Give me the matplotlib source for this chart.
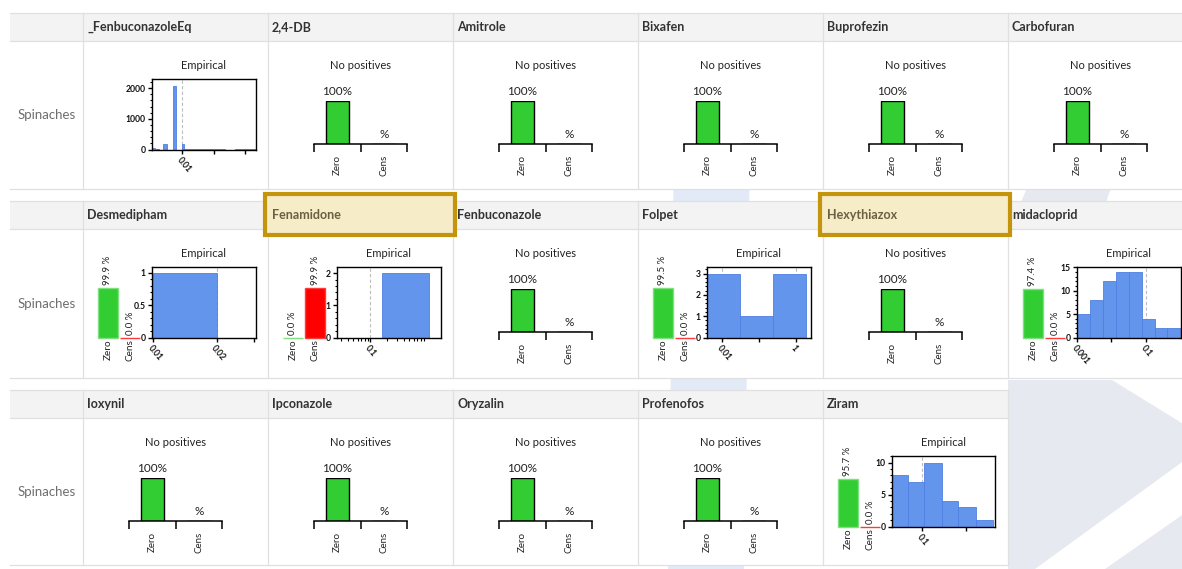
import numpy as np
import matplotlib
matplotlib.use("Agg")
import matplotlib.pyplot as plt
from matplotlib.patches import Rectangle, Polygon
from matplotlib.ticker import NullLocator, NullFormatter, AutoMinorLocator, LogLocator

plt.rcParams['font.family'] = ['Lato', 'DejaVu Sans']

# ---------------- data ----------------
row_label = "Spinaches"
row1_substances = ["_FenbuconazoleEq", "2,4-DB", "Amitrole", "Bixafen", "Buprofezin", "Carbofuran"]
row2_substances = ["Desmedipham", "Fenamidone", "Fenbuconazole", "Folpet", "Hexythiazox", "midacloprid"]
row3_substances = ["Ioxynil", "Ipconazole", "Oryzalin", "Profenofos", "Ziram"]
highlighted = ["Fenamidone", "Hexythiazox"]
zc_categories = ["Zero", "Cens"]

no_positive_pct = [100, 0]
no_positive_labels = ["100%", "%"]

fenbeq_edges = [0.00108, 0.0014, 0.0019, 0.00244, 0.0032, 0.0052, 0.0065, 0.0100, 0.0118, 0.03, 0.08, 0.24, 0.48, 2.17]
fenbeq_counts = [50, 12, 0, 185, 0, 2080, 0, 180, 25, 20, 18, 0, 22]
fenbeq_dashed = [0.01]
fenbeq_xticks = [0.01, 0.1, 1]
fenbeq_xticklabels = ["0.01", "", ""]
fenbeq_yticks = [0, 1000, 2000]
fenbeq_yticklabels = ["0", "1000", "2000"]

desmedipham_zero_cens = [99.9, 0.0]
desmedipham_edges = [0.01, 0.02]
desmedipham_counts = [1]
desmedipham_dashed = [0.02]
desmedipham_xticks = [0.01, 0.02, 0.03]
desmedipham_xticklabels = ["0.01", "0.02", ""]
desmedipham_yticks = [0, 0.5, 1]
desmedipham_yticklabels = ["0", "0.5", "1"]

fenamidone_zero_cens = [0.0, 99.9]
fenamidone_edges = [0.16, 1.1]
fenamidone_counts = [2]
fenamidone_dashed = [0.1]
fenamidone_xticks = [0.1]
fenamidone_xticklabels = ["0.1"]
fenamidone_yticks = [0, 1, 2]
fenamidone_yticklabels = ["0", "1", "2"]

folpet_zero_cens = [99.5, 0.0]
folpet_edges = [0.00373, 0.0296, 0.24, 1.95]
folpet_counts = [3, 1, 3]
folpet_dashed = [0.01, 1]
folpet_xticks = [0.01, 0.1, 1]
folpet_xticklabels = ["0.01", "", "1"]
folpet_yticks = [0, 1, 2, 3]
folpet_yticklabels = ["0", "1", "2", "3"]

imidacloprid_zero_cens = [97.4, 0.0]
imidacloprid_edges = [0.001, 0.00237, 0.00562, 0.0133, 0.0316, 0.075, 0.178, 0.42, 1.0]
imidacloprid_counts = [5, 8, 12, 14, 14, 4, 2, 2]
imidacloprid_dashed = [0.1]
imidacloprid_xticks = [0.001, 0.01, 0.1]
imidacloprid_xticklabels = ["0.001", "", "0.1"]
imidacloprid_yticks = [0, 5, 10, 15]
imidacloprid_yticklabels = ["0", "5", "10", "15"]

ziram_zero_cens = [95.7, 0.0]
ziram_edges = [0.0208, 0.0495, 0.1146, 0.285, 0.658, 1.69, 4.11]
ziram_counts = [8, 7, 10, 4, 3, 1]
ziram_dashed = [0.1]
ziram_xticks = [0.1, 1]
ziram_xticklabels = ["0.1", ""]
ziram_yticks = [0, 5, 10]
ziram_yticklabels = ["0", "5", "10"]

charts = {
    "_FenbuconazoleEq": dict(zc=None, edges=fenbeq_edges, counts=fenbeq_counts, dashed=fenbeq_dashed,
                             xlim=(0.00108, 2.17), ylim=(0, 2300), xticks=fenbeq_xticks,
                             xticklabels=fenbeq_xticklabels, yticks=fenbeq_yticks,
                             yticklabels=fenbeq_yticklabels, xminor=False),
    "Desmedipham": dict(zc=desmedipham_zero_cens, edges=desmedipham_edges, counts=desmedipham_counts,
                        dashed=desmedipham_dashed, xlim=(0.0099, 0.0305), ylim=(0, 1.09),
                        xticks=desmedipham_xticks, xticklabels=desmedipham_xticklabels,
                        yticks=desmedipham_yticks, yticklabels=desmedipham_yticklabels, xminor=False),
    "Fenamidone": dict(zc=fenamidone_zero_cens, edges=fenamidone_edges, counts=fenamidone_counts,
                       dashed=fenamidone_dashed, xlim=(0.0254, 1.8), ylim=(0, 2.19),
                       xticks=fenamidone_xticks, xticklabels=fenamidone_xticklabels,
                       yticks=fenamidone_yticks, yticklabels=fenamidone_yticklabels, xminor=True),
    "Folpet": dict(zc=folpet_zero_cens, edges=folpet_edges, counts=folpet_counts, dashed=folpet_dashed,
                   xlim=(0.00373, 2.56), ylim=(0, 3.31), xticks=folpet_xticks,
                   xticklabels=folpet_xticklabels, yticks=folpet_yticks,
                   yticklabels=folpet_yticklabels, xminor=False),
    "midacloprid": dict(zc=imidacloprid_zero_cens, edges=imidacloprid_edges, counts=imidacloprid_counts,
                        dashed=imidacloprid_dashed, xlim=(0.001, 1.0), ylim=(0, 15.1),
                        xticks=imidacloprid_xticks, xticklabels=imidacloprid_xticklabels,
                        yticks=imidacloprid_yticks, yticklabels=imidacloprid_yticklabels, xminor=False),
    "Ziram": dict(zc=ziram_zero_cens, edges=ziram_edges, counts=ziram_counts, dashed=ziram_dashed,
                  xlim=(0.0208, 4.8), ylim=(0, 11.05), xticks=ziram_xticks,
                  xticklabels=ziram_xticklabels, yticks=ziram_yticks,
                  yticklabels=ziram_yticklabels, xminor=False),
}

# ---------------- style / layout ----------------
W, H = 1182, 569
GREEN = "#32cd32"
GREEN_EDGE = "#7fe07f"
RED = "#ff0000"
RED_EDGE = "#ff3a3a"
BLUE = "#6495ed"
BLUE_EDGE = "#4f80e3"
GRID = "#e0e0e0"
HEADER_BG = "#f3f3f3"
TXT = "#222222"

TABLE_LEFT = 10
LABEL_RIGHT = 83
COL_W = 185
row_tops = [13, 201, 390]
header_bottoms = [41, 229, 418]
row_bottoms = [189, 378, 565]
rows = [row1_substances, row2_substances, row3_substances]

fig = plt.figure(figsize=(W / 100, H / 100), dpi=100)
fig.patch.set_facecolor("white")


def px_axes(x0, y0, x1, y1):
    return fig.add_axes([x0 / W, 1 - y1 / H, (x1 - x0) / W, (y1 - y0) / H])


bg = fig.add_axes([0, 0, 1, 1])
bg.set_xlim(0, W)
bg.set_ylim(H, 0)
bg.axis("off")

# faint watermark behind the table
WM_BLUE = "#e2e9f7"
WM_GRAY = "#e6e9ef"
bg.add_patch(Polygon([(674, 150), (750, 150), (744, 569), (668, 569)], closed=True,
                     facecolor=WM_BLUE, edgecolor="none", zorder=0))
bg.add_patch(Rectangle((1008, 380), 180, 190, facecolor=WM_GRAY, edgecolor="none", zorder=0))
bg.add_patch(Polygon([(1112, 380), (1185, 380), (1185, 425)], closed=True,
                     facecolor="white", edgecolor="none", zorder=0.1))
bg.add_patch(Polygon([(1035, 569), (1105, 569), (1185, 513), (1185, 460)], closed=True,
                     facecolor="white", edgecolor="none", zorder=0.1))
bg.add_patch(Polygon([(1028, 185), (1112, 185), (1105, 205), (1020, 205)], closed=True,
                     facecolor=WM_GRAY, edgecolor="none", zorder=0))

# table cells
for r, names in enumerate(rows):
    yt, yh, yb = row_tops[r], header_bottoms[r], row_bottoms[r]
    xr = LABEL_RIGHT + COL_W * len(names)
    xr_draw = min(xr, W + 5)
    bg.add_patch(Rectangle((TABLE_LEFT, yt), xr_draw - TABLE_LEFT, yh - yt,
                           facecolor=HEADER_BG, edgecolor="none", zorder=1))
    bg.add_patch(Rectangle((TABLE_LEFT, yh), xr_draw - TABLE_LEFT, yb - yh,
                           facecolor="white", edgecolor="none", zorder=1))
    for y in (yt, yh, yb):
        bg.plot([TABLE_LEFT, xr_draw], [y, y], color=GRID, lw=0.9, zorder=2)
    for i in range(len(names) + 1):
        x = LABEL_RIGHT + COL_W * i
        if x <= W:
            bg.plot([x, x], [yt, yb], color=GRID, lw=0.9, zorder=2)
    bg.text((TABLE_LEFT + LABEL_RIGHT) / 2, (yh + yb) / 2, row_label, ha="center", va="center",
            fontsize=9.5, color="#6e6e6e", zorder=3)
    for i, name in enumerate(names):
        cl = LABEL_RIGHT + COL_W * i
        color = "#333333"
        if name in highlighted:
            bg.add_patch(Rectangle((cl - 3, yt - 7), 190, yh - yt + 13, facecolor="#f6ecc8",
                                   edgecolor="#c4950c", lw=3.0, zorder=2.5))
            color = "#6b6142"
        bg.text(cl + 4, (yt + yh) / 2, name, ha="left", va="center", fontsize=9,
                fontweight="bold", color=color, zorder=3)


def draw_no_positive(cl, ct):
    ax = px_axes(cl + 46, ct + 60, cl + 139.3, ct + 103)
    ax.set_facecolor("none")
    pos = np.arange(len(zc_categories)) + 0.5
    ax.bar(pos, no_positive_pct, width=0.5, color=[GREEN, RED], edgecolor="black", lw=1.0, zorder=2)
    ax.set_xlim(0, len(zc_categories))
    ax.set_ylim(0, 100)
    for s in ("top", "left", "right"):
        ax.spines[s].set_visible(False)
    ax.spines["bottom"].set_linewidth(1.1)
    ax.set_yticks([])
    ax.set_xticks(np.arange(len(zc_categories) + 1))
    ax.set_xticklabels([])
    ax.set_xticks(pos, zc_categories, minor=True, rotation=90, fontsize=7, color=TXT)
    ax.tick_params(axis="x", which="major", length=5.8, width=1.1, direction="out")
    ax.tick_params(axis="x", which="minor", length=0, pad=8)
    for p, v, lab in zip(pos, no_positive_pct, no_positive_labels):
        ax.annotate(lab, (p, v), xytext=(0, 3), textcoords="offset points", ha="center",
                    va="bottom", fontsize=8.5, color=TXT, annotation_clip=False)
    ax.set_title("No positives", fontsize=8, pad=23, color=TXT)


def draw_zero_cens(cl, ct, values):
    ax = px_axes(cl + 13.5, ct + 58.5, cl + 58.5, ct + 108.5)
    ax.set_facecolor("none")
    pos = np.arange(len(zc_categories))
    ax.bar(pos, values, width=0.87, color=[GREEN, RED], edgecolor=[GREEN_EDGE, RED_EDGE], lw=1.0,
           zorder=2, clip_on=False)
    ax.set_xlim(-0.5, len(zc_categories) - 0.5)
    ax.set_ylim(0, 100)
    for s in ax.spines.values():
        s.set_visible(False)
    ax.set_yticks([])
    ax.set_xticks(pos, zc_categories, rotation=90, fontsize=7.2, color=TXT)
    ax.tick_params(axis="x", length=0, pad=1.5)
    for p, v in zip(pos, values):
        ax.annotate(f"{v:.1f} %", (p, v), xytext=(0, 2), textcoords="offset points", ha="center",
                    va="bottom", rotation=90, fontsize=7, color=TXT, annotation_clip=False)


def draw_hist(cl, ct, spec):
    ax = px_axes(cl + 68.7, ct + 38, cl + 172.5, ct + 108.5)
    ax.set_facecolor("white")
    ax.set_xscale("log")
    edges = spec["edges"]
    lefts = edges[:-1]
    widths = [b - a for a, b in zip(edges[:-1], edges[1:])]
    ax.bar(lefts, spec["counts"], width=widths, align="edge", color=BLUE, edgecolor=BLUE_EDGE,
           lw=0.6, zorder=2)
    for v in spec["dashed"]:
        ax.axvline(v, color="#bdbdbd", ls=(0, (3, 2)), lw=0.8, zorder=1)
    ax.set_xlim(*spec["xlim"])
    ax.set_ylim(*spec["ylim"])
    ax.set_xticks(spec["xticks"], spec["xticklabels"], rotation=-50, ha="left", va="top",
                  rotation_mode="anchor", fontsize=6.2, fontweight="bold", color="#111111")
    if spec["xminor"]:
        ax.xaxis.set_minor_locator(LogLocator(base=10, subs=np.arange(2, 10), numticks=30))
    else:
        ax.xaxis.set_minor_locator(NullLocator())
    ax.xaxis.set_minor_formatter(NullFormatter())
    ax.set_yticks(spec["yticks"], spec["yticklabels"], fontsize=6.2, fontweight="bold", color="#111111")
    ax.yaxis.set_minor_locator(AutoMinorLocator(5))
    for s in ax.spines.values():
        s.set_linewidth(1.0)
    ax.tick_params(axis="both", which="major", direction="out", length=3, width=1.0, pad=1.5)
    ax.tick_params(axis="y", which="minor", direction="out", length=1.8, width=0.8)
    ax.tick_params(axis="x", which="minor", direction="out", length=2.3, width=0.8)
    ax.set_title("Empirical", fontsize=8, pad=7, color=TXT)


for r, names in enumerate(rows):
    ct = header_bottoms[r]
    for i, name in enumerate(names):
        cl = LABEL_RIGHT + COL_W * i
        if name in charts:
            spec = charts[name]
            if spec["zc"] is not None:
                draw_zero_cens(cl, ct, spec["zc"])
            draw_hist(cl, ct, spec)
        else:
            draw_no_positive(cl, ct)

fig.savefig("out.png", dpi=100, facecolor="white")
